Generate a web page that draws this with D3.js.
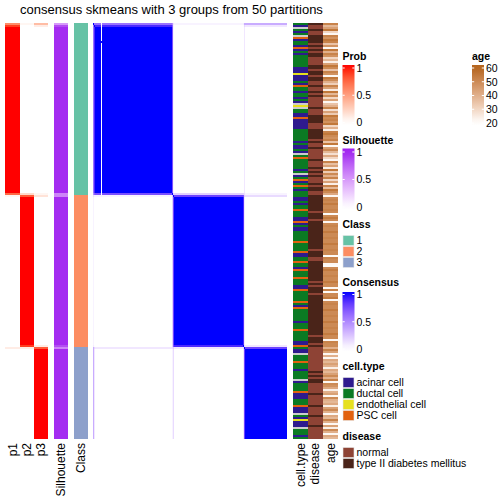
<!DOCTYPE html>
<html><head><meta charset="utf-8">
<script src="https://cdn.jsdelivr.net/npm/d3@7"></script>
<style>body{margin:0;background:#fff}svg{display:block}text{font-family:"Liberation Sans",Arial,Helvetica,sans-serif;fill:#000}</style>
</head><body><svg id="c" width="504" height="504"></svg>
<script>
// ---------------- DATA ----------------
const titleText = "consensus skmeans with 3 groups from 50 partitions";
const classNames = ["1","2","3"];
const classColors = ["#66C2A5","#FC8D62","#8DA0CB"];
// membership probabilities, one value per sample (rows in display order)
const p1 = [
0.6,0.9,1,1,1,1,1,1,1,1,
1,1,1,1,1,1,1,1,1,1,
1,1,1,1,1,1,1,1,1,1,
1,1,1,1,1,1,1,1,1,1,
1,1,1,1,1,1,1,1,1,1,
1,1,1,1,1,1,1,1,1,1,
1,1,1,1,1,1,1,1,1,1,
1,1,1,1,1,1,1,1,1,1,
1,1,1,1,1,0.75,0.05,0,0,0,
0,0,0,0,0,0,0,0,0,0,
0,0,0,0,0,0,0,0,0,0,
0,0,0,0,0,0,0,0,0,0,
0,0,0,0,0,0,0,0,0,0,
0,0,0,0,0,0,0,0,0,0,
0,0,0,0,0,0,0,0,0,0,
0,0,0,0,0,0,0,0,0,0,
0,0,0.1,0,0,0,0,0,0,0,
0,0,0,0,0,0,0,0,0,0,
0,0,0,0,0,0,0,0,0,0,
0,0,0,0,0,0,0,0,0,0,
0,0,0,0,0,0,0,0];
const p2 = [
0.05,0,0,0,0,0,0,0,0,0,
0,0,0,0,0,0,0,0,0,0,
0,0,0,0,0,0,0,0,0,0,
0,0,0,0,0,0,0,0,0,0,
0,0,0,0,0,0,0,0,0,0,
0,0,0,0,0,0,0,0,0,0,
0,0,0,0,0,0,0,0,0,0,
0,0,0,0,0,0,0,0,0,0,
0,0,0,0,0,0.2,0.8,1,1,1,
1,1,1,1,1,1,1,1,1,1,
1,1,1,1,1,1,1,1,1,1,
1,1,1,1,1,1,1,1,1,1,
1,1,1,1,1,1,1,1,1,1,
1,1,1,1,1,1,1,1,1,1,
1,1,1,1,1,1,1,1,1,1,
1,1,1,1,1,1,1,1,1,1,
1,0.9,0.1,0,0,0,0,0,0,0,
0,0,0,0,0,0,0,0,0,0,
0,0,0,0,0,0,0,0,0,0,
0,0,0,0,0,0,0,0,0,0,
0,0,0,0,0,0,0,0];
const p3 = [
0.35,0.1,0,0,0,0,0,0,0,0,
0,0,0,0,0,0,0,0,0,0,
0,0,0,0,0,0,0,0,0,0,
0,0,0,0,0,0,0,0,0,0,
0,0,0,0,0,0,0,0,0,0,
0,0,0,0,0,0,0,0,0,0,
0,0,0,0,0,0,0,0,0,0,
0,0,0,0,0,0,0,0,0,0,
0,0,0,0,0,0.05,0.15,0,0,0,
0,0,0,0,0,0,0,0,0,0,
0,0,0,0,0,0,0,0,0,0,
0,0,0,0,0,0,0,0,0,0,
0,0,0,0,0,0,0,0,0,0,
0,0,0,0,0,0,0,0,0,0,
0,0,0,0,0,0,0,0,0,0,
0,0,0,0,0,0,0,0,0,0,
0,0.1,0.8,1,1,1,1,1,1,1,
1,1,1,1,1,1,1,1,1,1,
1,1,1,1,1,1,1,1,1,1,
1,1,1,1,1,1,1,1,1,1,
1,1,1,1,1,1,1,1];
// silhouette scores; samples not listed in silhouetteLow are 0.97
const silhouetteLow = [[0,0.5],[1,0.85],[85,0.6],[86,0.6],[161,0.85],[162,0.6]];
const silhouetteDefault = 0.97;
// heatmap columns that show blank inside their own class block
const blankColumns = [9];
// cell type codes: A acinar, D ductal, E endothelial, P PSC, N missing
const cellTypeCodes =
  "DANDADNPADDAPADADDDDDDAAAEAAADAPDDADDADANENDDAAPAAAAADDDDDDADAADANDPDDDDDADNADPADPDADD" +
  "DAADADDPDDDAAPADAADDDDDPDDDDPAADDPDDAPDDDPDDDAAPDDDDDPDAPDDDDDDADDDPDDDDDAAP" +
  "DAANDDDPDDDADDDDNADDDDPAAADDDPAAANDAEAAANDDDAD";
const cellTypeNames = ["acinar cell","ductal cell","endothelial cell","PSC cell"];
const cellTypeKeys = ["A","D","E","P"];
const cellTypeColors = ["#2E1A8E","#0B7A23","#E6E01E","#E2620F"];
const cellTypeNA = "#CCCCCC";
// disease codes: n normal, t type II diabetes mellitus
const diseaseCodes =
  "tnntnnttttntntnttnnnnttnttnttnntnntntnnnnntnnnttttnnntttttntnntnnnnntnnntntntnnntnttn" +
  "nttttttttntttnttttttttttttttntttnnttttttttttntntttnttttttttttttttttttttnttt" +
  "ntnnnnnnnnnnnntntnttnnnnntnnnnntnnnntnnnntnnnn";
const diseaseNames = ["normal","type II diabetes mellitus"];
const diseaseKeys = ["n","t"];
const diseaseColors = ["#8E4335","#4A2419"];
const age = [
52,38,44,55,30,22,52,48,55,52, 35,48,22,55,40,52,48,30,38,24,
44,55,50,35,52,48,22,55,50,40, 32,52,44,25,55,38,50,30,44,22,
35,40,52,28,44,33,55,50,52,48, 55,30,40,24,52,55,50,48,52,35,
55,22,44,50,38,28,42,30,22,52, 36,44,25,55,33,50,40,52,30,44,
24,52,38,55,50,42,
22,50,52,50,54,50,50,52,50,21, 50,54,50,22,50,52,50,50,54,50,
50,52,50,50,54,50,50,52,50,50, 21,52,50,50,22,21,50,54,50,50,
52,50,50,54,50,50,22,52,21,50, 50,54,22,50,52,50,50,54,50,50,
52,50,50,54,50,50,52,50,50,54, 50,50,22,52,50,50,
40,52,44,22,40,22,42,38,44,40, 24,42,38,44,50,40,52,22,50,48,
42,24,40,44,22,50,40,38,42,24, 44,50,40,22,42,38,52,40,22,44,
24,50,40,22,42,38];
const probTicks = [0,0.5,1];
const ageTicks = [20,30,40,50,60];

// ---------------- DRAW ----------------
const N = p1.length;
const silhouette = d3.range(N).map(()=>silhouetteDefault);
silhouetteLow.forEach(([i,v])=>silhouette[i]=v);
const cls = d3.range(N).map(i=>d3.maxIndex([p1[i],p2[i],p3[i]]));

const svg = d3.select("#c");
const y = d3.scaleBand().domain(d3.range(N)).range([23,439]);
const xh = d3.scaleBand().domain(d3.range(N)).range([93,287]);

const probColor = d3.scaleLinear().domain([0,1]).range(["#FFFFFF","#FF0000"]).interpolate(d3.interpolateLab);
const silColor = d3.scaleLinear().domain([0,1]).range(["#FFFFFF","#A020F0"]).interpolate(d3.interpolateLab);
const consColor = d3.scaleLinear().domain([0,1]).range(["#FFFFFF","#0000FF"]).interpolate(d3.interpolateLab);
const ageColor = d3.scaleLinear().domain([20,60]).range(["#FFFFFF","#B5651D"]).interpolate(d3.interpolateLab);
const classColor = d3.scaleOrdinal().domain([0,1,2]).range(classColors);
const ctColor = d3.scaleOrdinal().domain(cellTypeKeys).range(cellTypeColors).unknown(cellTypeNA);
const disColor = d3.scaleOrdinal().domain(diseaseKeys).range(diseaseColors);

svg.append("text").attr("x",171.5).attr("y",14).attr("text-anchor","middle")
  .style("font-size","13px").text(titleText);

// annotation columns
const cols = [
  {label:"p1", x0:5, x1:19.5, color:i=>probColor(p1[i])},
  {label:"p2", x0:19.5, x1:34, color:i=>probColor(p2[i])},
  {label:"p3", x0:34, x1:48, color:i=>probColor(p3[i])},
  {label:"Silhouette", x0:54, x1:68, color:i=>silColor(silhouette[i])},
  {label:"Class", x0:74, x1:88, color:i=>classColor(cls[i])},
  {label:"cell.type", x0:293, x1:307.5, color:i=>ctColor(cellTypeCodes[i])},
  {label:"disease", x0:307.5, x1:322.5, color:i=>disColor(diseaseCodes[i])},
  {label:"age", x0:322.5, x1:338, color:i=>ageColor(age[i])},
];
cols.forEach(c=>{
  svg.append("g").selectAll("rect").data(d3.range(N)).join("rect")
    .attr("x",c.x0).attr("width",c.x1-c.x0)
    .attr("y",i=>y(i)).attr("height",y.bandwidth())
    .attr("fill",i=>c.color(i)).attr("shape-rendering","crispEdges");
  const cx=(c.x0+c.x1)/2;
  svg.append("text").attr("transform",`translate(${cx+4.3},443) rotate(-90)`)
    .attr("text-anchor","end").style("font-size","12px").text(c.label);
});

// consensus heatmap (built from membership arrays), drawn as merged runs per row
const cons = (i,j)=>{
  if(i===j) return 1;
  if(blankColumns.includes(j) && cls[i]===cls[j]) return 0;
  return Math.round((p1[i]*p1[j]+p2[i]*p2[j]+p3[i]*p3[j])*100)/100;
};
const runs=[];
for(let i=0;i<N;i++){
  let s=0, v=cons(i,0);
  for(let j=1;j<=N;j++){
    const w = j<N ? cons(i,j) : null;
    if(w!==v){ runs.push({i,s,e:j-1,v}); s=j; v=w; }
  }
}
svg.append("g").selectAll("rect").data(runs).join("rect")
  .attr("x",d=>xh(d.s)).attr("width",d=>xh(d.e)+xh.bandwidth()-xh(d.s)+0.02)
  .attr("y",d=>y(d.i)).attr("height",y.bandwidth())
  .attr("fill",d=>consColor(d.v)).attr("shape-rendering","crispEdges");

// ---------------- LEGENDS ----------------
const defs = svg.append("defs");
function colorBar(id, x, titleY, title, domain, ticks, color, top, y1, y0){
  svg.append("text").attr("x",x).attr("y",titleY).style("font-size","10.5px").style("font-weight","bold").text(title);
  const sc = d3.scaleLinear().domain(domain).range([y0,y1]);
  const g = defs.append("linearGradient").attr("id",id).attr("x1",0).attr("x2",0).attr("y1",0).attr("y2",1);
  const bottom = y0+2.5;
  d3.range(0,1.0001,0.1).forEach(t=>{
    const yy = top + t*(bottom-top);
    const v = Math.max(domain[0],Math.min(domain[1],sc.invert(yy)));
    g.append("stop").attr("offset",t).attr("stop-color",color(v));
  });
  svg.append("rect").attr("x",x).attr("y",top).attr("width",12).attr("height",bottom-top).attr("fill",`url(#${id})`);
  ticks.forEach(t=>{
    svg.append("line").attr("x1",x).attr("x2",x+2.2).attr("y1",sc(t)).attr("y2",sc(t)).attr("stroke","#fff").attr("stroke-width",1);
    svg.append("line").attr("x1",x+9.8).attr("x2",x+12).attr("y1",sc(t)).attr("y2",sc(t)).attr("stroke","#fff").attr("stroke-width",1);
    svg.append("text").attr("x",x+14).attr("y",sc(t)).attr("dy","0.36em").style("font-size","10.5px").text(t);
  });
}
function discrete(x, titleY, title, top, names, colors){
  svg.append("text").attr("x",x).attr("y",titleY).style("font-size","10.5px").style("font-weight","bold").text(title);
  names.forEach((n,k)=>{
    svg.append("rect").attr("x",x+0.5).attr("y",top+k*11+0.5).attr("width",11).attr("height",10)
      .attr("fill",colors[k]).attr("stroke","#e8e8e8").attr("stroke-width",0.6);
    svg.append("text").attr("x",x+14).attr("y",top+k*11+5.5).attr("dy","0.36em").style("font-size","10.5px").text(n);
  });
}
colorBar("gProb",342.5,59.5,"Prob",[0,1],probTicks,probColor,65,68,122.5);
colorBar("gSil",342.5,143.5,"Silhouette",[0,1],probTicks,silColor,148.5,152,207);
discrete(342.5,227.5,"Class",235,classNames,classColors);
colorBar("gCons",342.5,285.5,"Consensus",[0,1],probTicks,consColor,292,294.5,349);
discrete(342.5,370,"cell.type",377,cellTypeNames,cellTypeColors);
discrete(342.5,439.5,"disease",447,diseaseNames,diseaseColors);
colorBar("gAge",472,59.5,"age",[20,60],ageTicks,ageColor,65,68,123);
</script></body></html>
